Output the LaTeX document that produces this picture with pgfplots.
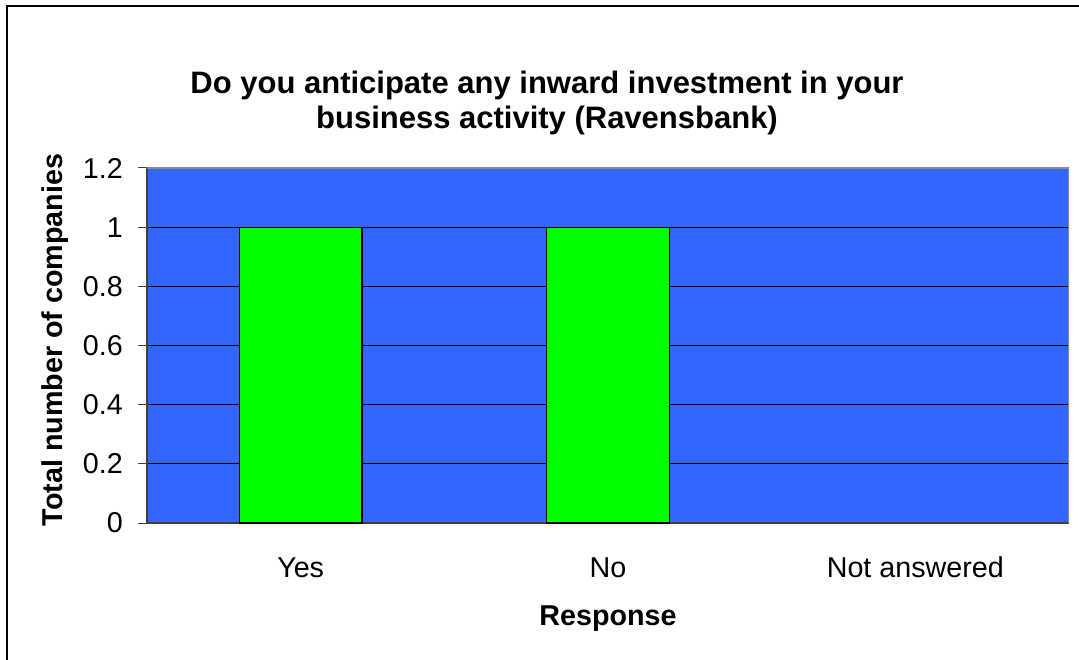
\documentclass[border=0pt]{standalone}
\usepackage{pgfplots}
\pgfplotsset{compat=1.18}
\usepackage{fontspec}
\setmainfont{Liberation Sans}

\definecolor{plotblue}{HTML}{3366FF}
\definecolor{bargreen}{HTML}{00FF00}
\definecolor{axisgray}{HTML}{404040}
\definecolor{bordergray}{HTML}{8C8C8C}

\begin{document}
\begin{tikzpicture}
% picture frame (1px = 1pt), axis origin at lower left of plot area
\clip (-147pt,-136pt) rectangle (932pt,523pt);
\fill[white] (-147pt,-136pt) rectangle (932pt,523pt);
\draw[black, line width=1.2pt] (-140pt,-300pt) rectangle (940pt,517pt);

\begin{axis}[
    at={(0pt,0pt)}, anchor=south west,
    scale only axis,
    width=922pt, height=355pt,
    xmin=-0.5, xmax=2.5,
    ymin=0, ymax=1.2,
    ytick={0,0.2,...,1.2},
    yticklabels={0,0.2,0.4,0.6,0.8,1,1.2},
    xtick={0,1,2},
    xticklabels={Yes,No,Not answered},
    major x tick style={draw=none},
    extra x ticks={-0.5,0.5,1.5,2.5},
    extra x tick labels={},
    extra x tick style={major tick length=9pt, tick align=outside,
        major tick style={axisgray, line width=1pt}, xmajorgrids=false},
    tick align=outside,
    major tick length=9pt,
    ytick style={axisgray, line width=1pt},
    axis x line*=bottom,
    axis y line*=left,
    axis line style={axisgray, line width=1.5pt, -},
    axis background/.style={fill=plotblue},
    ymajorgrids,
    major grid style={black, line width=1pt},
    xticklabel style={font=\fontsize{28.7}{34}\selectfont, anchor=base, inner sep=0pt, yshift=-45pt},
    yticklabel style={font=\fontsize{28.7}{34}\selectfont, anchor=east, inner sep=0pt, xshift=-15pt},
    /pgf/number format/assume math mode=true,
    ybar, bar shift=0pt,
    bar width=0.4,
]
% top and right border of the plot area
\draw[bordergray, line width=1.5pt] (rel axis cs:0,1) -- (rel axis cs:1,1) -- (rel axis cs:1,0);
\addplot[fill=bargreen, draw=black, line width=1.3pt] coordinates {(0,1) (1,1)};
% Not answered: zero companies, nothing visible
\addplot[draw=none, fill=none] coordinates {(2,0)};
\end{axis}

\node[font=\bfseries\fontsize{31}{35}\selectfont, align=center] at (400pt,420pt)
    {Do you anticipate any inward investment in your\\business activity (Ravensbank)};
\node[font=\bfseries\fontsize{28.7}{34}\selectfont, rotate=90] at (-92pt,183pt)
    {Total number of companies};
\node[font=\bfseries\fontsize{28.7}{34}\selectfont] at (461pt,-96pt) {Response};
\end{tikzpicture}
\end{document}
